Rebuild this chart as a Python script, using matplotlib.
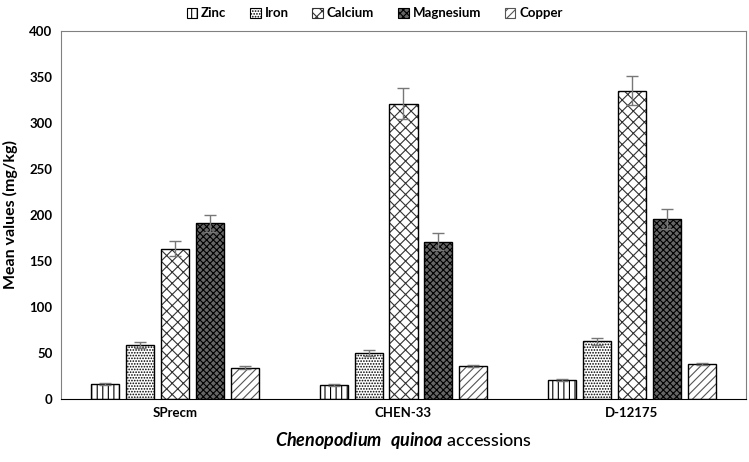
import numpy as np
import matplotlib.pyplot as plt
from matplotlib.patches import Patch

plt.rcParams.update({
    'font.family': ['Lato', 'DejaVu Sans'],
    'font.weight': 'bold',
    'hatch.linewidth': 0.8,
    'mathtext.fontset': 'custom',
    'mathtext.it': 'Lato:italic:bold',
    'mathtext.rm': 'Lato',
})

# accessions and minerals
accessions = ['SPrecm', 'CHEN-33', 'D-12175']
minerals = ['Zinc', 'Iron', 'Calcium', 'Magnesium', 'Copper']

# mean values (mg/kg), one list per mineral in accession order
zinc = [16, 15, 20.5]
iron = [58.5, 50, 62.5]
calcium = [163.5, 321, 335]
magnesium = [191, 171, 196]
copper = [34, 36, 38]

# error bars
zinc_err = [1, 1, 1]
iron_err = [3, 3.5, 3.5]
calcium_err = [8, 17, 16]
magnesium_err = [9, 9, 11]
copper_err = [1.5, 1, 1]

means = [zinc, iron, calcium, magnesium, copper]
errs = [zinc_err, iron_err, calcium_err, magnesium_err, copper_err]

# styling per mineral: (face colour, hatch, hatch colour)
styles = [
    ('white', '|||', 'black'),
    ('white', '......', 'black'),
    ('white', 'xxx', '#333333'),
    ('#666666', 'xxxxx', 'black'),
    ('white', '////', '#555555'),
]

fig = plt.figure(figsize=(7.49, 4.62), dpi=100)
ax = fig.add_axes([0.0814, 0.1364, 0.9146, 0.7966])

x = np.arange(len(accessions))
width = 0.123
step = 0.153

handles = []
for i, (vals, err, (fc, hatch, hc)) in enumerate(zip(means, errs, styles)):
    pos = x + (i - 2) * step
    # hatch layer
    ax.bar(pos, vals, width, color=fc, edgecolor=hc, hatch=hatch, linewidth=0, zorder=2)
    # outline + error bars
    ax.bar(pos, vals, width, fill=False, edgecolor='black', linewidth=1.0, zorder=3,
           yerr=err, error_kw=dict(ecolor='#777777', elinewidth=1.0, capsize=4, capthick=1.0, zorder=4))
    handles.append(Patch(facecolor=fc, edgecolor=hc, hatch=hatch, linewidth=0.8, label=minerals[i]))

ax.set_xlim(-0.5, 2.5)
ax.set_ylim(0, 400)
ax.set_yticks(np.arange(0, 401, 50))
ax.set_xticks(x)
ax.set_xticklabels(accessions)
ax.tick_params(axis='both', length=0, labelsize=9.5, pad=6)
for sp in ['top', 'right']:
    ax.spines[sp].set_color('#808080')
ax.spines['left'].set_color('#808080')
ax.spines['bottom'].set_color('black')

ax.set_ylabel('Mean values (mg/kg)', fontsize=11.5, fontweight='bold', labelpad=8)
ax.set_xlabel(r'$Chenopodium$  $quinoa$ accessions', fontsize=13, fontweight='medium', labelpad=8)

fig.legend(handles=handles, loc='upper center', bbox_to_anchor=(0.5, 1.01), ncol=5, frameon=False,
           fontsize=9.5, handlelength=0.8, handleheight=0.8, handletextpad=0.3, columnspacing=1.8)

fig.savefig('out.png', dpi=100)
